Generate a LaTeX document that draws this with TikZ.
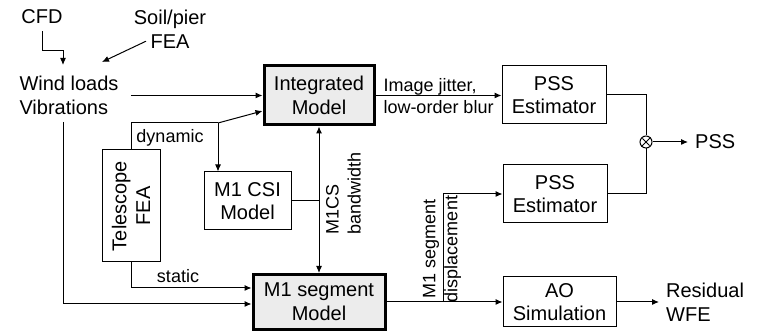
\documentclass[tikz,border=0pt]{standalone}
\usepackage{fontspec}
\setmainfont{Liberation Sans}
\usetikzlibrary{arrows.meta}
\begin{document}
\begin{tikzpicture}[x=0.5pt,y=-0.5pt,->,>={Latex[length=3.5pt,width=3pt]},line width=0.5pt,
    font=\fontsize{10}{11.8}\selectfont]
      \tikzstyle{block}=[draw,-,align=center,inner sep=2pt]
      \tikzstyle{model}=[block,fill=gray!15,line width=1.5pt]
      \tikzstyle{lbl}=[font=\fontsize{9}{11}\selectfont,inner sep=0pt]
      \useasboundingbox (0,0) rectangle (760,335);

      \foreach \name/\txt/\x/\y/\w/\h in {csi/M1 CSI\\Model/247.5/201/43.5/29, pss1/PSS\\Estimator/554/95/52/29, pss2/PSS\\Estimator/555/194/52/29, ao/AO\\Simulation/559.5/302/56.5/25}
        \node[block,minimum width=\w pt,minimum height=\h pt] (G-\name) at (\x,\y) {\txt};

      \node[model,minimum width=55pt,minimum height=29.5pt] (G-int) at (319,95.5) {Integrated\\Model};
      \node[model,minimum width=66pt,minimum height=27.5pt] (G-seg) at (319,302) {M1 segment\\Model};
      \node[block,rotate=90,minimum width=56pt,minimum height=29pt] (G-tel) at (131,206) {Telescope\\FEA};
      \node[draw,-,circle,inner sep=0pt,minimum size=6pt] (G-mul) at (646,142) {};

      % sources and outputs
      \node (G-cfd) at (42,17) {CFD};
      \node[align=center] (G-soil) at (170,29) {Soil/pier\\FEA};
      \node[align=left,anchor=west,inner xsep=6pt,inner ysep=0pt] (G-wind) at (7,95.5) {Wind loads\\Vibrations};
      \node[anchor=west] (G-out) at (688,142) {PSS};
      \node[anchor=west,align=left] (G-wfe) at (659,302) {Residual\\WFE};
      \coordinate (w-in) at (63,65);
      \coordinate (w-soil) at (102,62);
      \coordinate (w-out) at (63,122);
      \coordinate (dyn) at (218,123);
      \coordinate (split) at (443,302);

      % labels
      \node[lbl] (G-dlbl) at (170,138) {dynamic};
      \node[lbl] (G-slbl) at (178,276) {static};
      \node[lbl,align=left,anchor=west] (G-jit) at (383,96) {Image jitter,\\low-order blur};
      \node[lbl,rotate=90,anchor=west,align=left] (G-bw) at (343.5,235) {M1CS\\bandwidth};
      \node[lbl,rotate=90,align=center] (G-disp) at (442,249) {M1 segment\\displacement};

      \draw (G-cfd.south) -- ++(0,19) -| (w-in);
      \draw ([xshift=-12pt,yshift=7pt]G-soil.south) -- (w-soil);
      \draw (G-wind.east) -- (G-wind.east -| G-int.west);
      \draw[-] (G-tel.east) |- (dyn);
      \draw (dyn) -- ([yshift=-7.75pt]G-int.west);
      \draw (dyn) -- (dyn |- G-csi.north);
      \draw (G-tel.west) |- ([yshift=7pt]G-seg.west);
      \draw (w-out) |- ([yshift=-1pt]G-seg.west);
      \draw[-] (G-csi.east) -- (G-csi.east -| G-int.south);
      \draw[<->] (G-int) -- (G-seg);
      \draw (G-int.east) -- (G-int.east -| G-pss1.west);
      \draw (G-seg.east) -- (G-ao.west);
      \draw (split) |- (G-pss2.west);
      \draw[-] (G-pss1.east) -| (G-mul.north);
      \draw[-] (G-pss2.east) -| (G-mul.south);
      \draw[-,shorten >=0.7pt,shorten <=0.7pt] (G-mul.45) -- (G-mul.225) (G-mul.135) -- (G-mul.315);
      \draw (G-mul) -- (G-out);
      \draw (G-ao.east) -- (G-ao.east -| G-wfe.west);
    \end{tikzpicture}
\end{document}
